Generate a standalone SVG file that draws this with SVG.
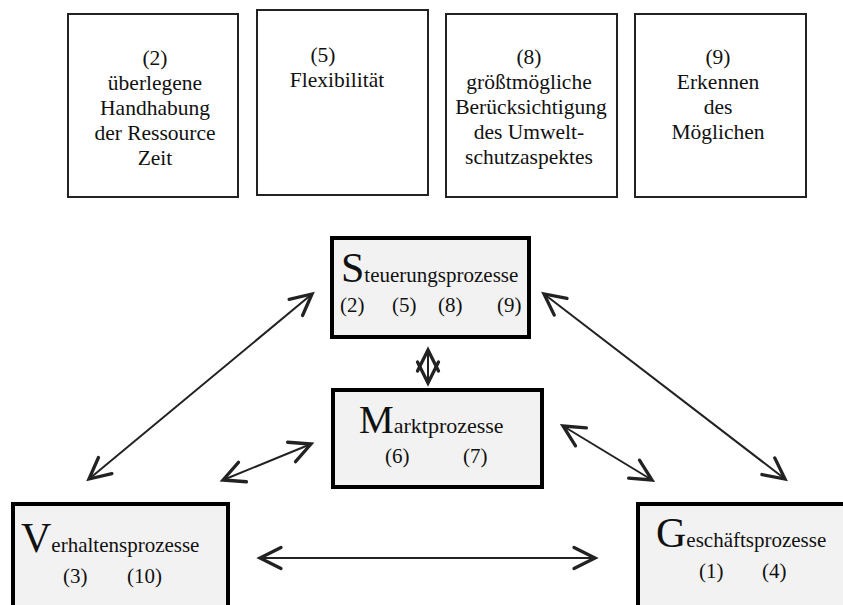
<svg xmlns="http://www.w3.org/2000/svg" width="843" height="605" viewBox="0 0 843 605" font-family="'Liberation Serif', 'Times New Roman', Tinos, 'DejaVu Serif', serif">
  <style>
    .t { font-size: 21.5px; text-anchor: middle; fill: #111; }
    .lbl { font-size: 21px; fill: #111; }
    .big { font-size: 42px; fill: #111; }
    .goal { fill: #fff; stroke: #222; stroke-width: 2; }
    .proc { fill: #f2f2f2; stroke: #000; stroke-width: 4; }
    .conn line { stroke: #222; stroke-width: 2; fill: none; marker-start: url(#head); marker-end: url(#head); }
  </style>
  <defs>
    <marker id="head" markerUnits="userSpaceOnUse" markerWidth="30" markerHeight="30" viewBox="-16 -10 20 20" refX="0" refY="0" orient="auto-start-reverse">
      <path d="M -14 -7 L 0 0 L -14 7" fill="none" stroke="#222" stroke-width="2.2" stroke-linecap="round" stroke-linejoin="miter"/>
    </marker>
  </defs>

  <!-- goal boxes -->
  <g id="goal-2">
    <rect class="goal" x="68" y="14" width="170" height="183" stroke-width="1.6"/>
    <text class="t" x="155" y="65">(2)</text>
    <text class="t" x="155" y="90">überlegene</text>
    <text class="t" x="155" y="115">Handhabung</text>
    <text class="t" x="155" y="140">der Ressource</text>
    <text class="t" x="155" y="165">Zeit</text>
  </g>
  <g id="goal-5">
    <rect class="goal" x="257" y="10" width="171" height="185" stroke-width="2.6"/>
    <text class="t" x="323" y="62">(5)</text>
    <text class="t" x="337" y="87">Flexibilität</text>
  </g>
  <g id="goal-8">
    <rect class="goal" x="446" y="14" width="171" height="183"/>
    <text class="t" x="529" y="64">(8)</text>
    <text class="t" x="529" y="89">größtmögliche</text>
    <text class="t" x="531" y="114">Berücksichtigung</text>
    <text class="t" x="529" y="139">des Umwelt-</text>
    <text class="t" x="529" y="164">schutzaspektes</text>
  </g>
  <g id="goal-9">
    <rect class="goal" x="635" y="14" width="171" height="183"/>
    <text class="t" x="718" y="64">(9)</text>
    <text class="t" x="718" y="89">Erkennen</text>
    <text class="t" x="718" y="114">des</text>
    <text class="t" x="718" y="139">Möglichen</text>
  </g>

  <!-- process nodes -->
  <g id="steuerung">
    <rect class="proc" x="332" y="238" width="197" height="99"/>
    <text x="341" y="282"><tspan class="big">S</tspan><tspan class="lbl">teuerungsprozesse</tspan></text>
    <text class="lbl" x="340" y="312">(2)</text>
    <text class="lbl" x="392" y="312">(5)</text>
    <text class="lbl" x="438" y="312">(8)</text>
    <text class="lbl" x="497" y="312">(9)</text>
  </g>
  <g id="markt">
    <rect class="proc" x="333" y="390" width="209" height="97"/>
    <text x="359" y="433"><tspan class="big" style="font-size:39px">M</tspan><tspan class="lbl" style="font-size:22px">arktprozesse</tspan></text>
    <text class="lbl" x="385" y="463">(6)</text>
    <text class="lbl" x="463" y="463">(7)</text>
  </g>
  <g id="verhalten">
    <rect class="proc" x="13" y="504" width="215" height="104"/>
    <text x="21" y="552"><tspan class="big">V</tspan><tspan class="lbl">erhaltensprozesse</tspan></text>
    <text class="lbl" x="63" y="583">(3)</text>
    <text class="lbl" x="127" y="583">(10)</text>
  </g>
  <g id="geschaeft">
    <rect class="proc" x="638" y="504" width="215" height="104"/>
    <text x="656" y="547"><tspan class="big">G</tspan><tspan class="lbl">eschäftsprozesse</tspan></text>
    <text class="lbl" x="699" y="578">(1)</text>
    <text class="lbl" x="762" y="578">(4)</text>
  </g>

  <!-- connectors -->
  <g id="connectors" class="conn">
    <line x1="89" y1="479" x2="312" y2="294"/>
    <line x1="223" y1="480" x2="311" y2="444"/>
    <line x1="544" y1="294" x2="785" y2="479"/>
    <line x1="563" y1="426" x2="652" y2="480"/>
    <line x1="260" y1="558" x2="595" y2="558"/>
    <line x1="428" y1="350" x2="428" y2="383"/>
  </g>
</svg>
